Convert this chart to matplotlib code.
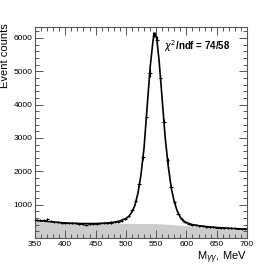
import numpy as np
import matplotlib
matplotlib.use("Agg")
import matplotlib.pyplot as plt
from matplotlib.ticker import MultipleLocator

plt.rcParams['font.family'] = ['Liberation Sans', 'DejaVu Sans']

# Histogram: 60 bins from 350 to 700 MeV
bin_edges_lo = 350.0
bin_edges_hi = 700.0
n_bins = 60
counts = [540, 530, 545, 560, 510, 480, 470, 460, 450, 445,
          440, 445, 430, 420, 395, 415, 425, 430, 440, 455,
          450, 465, 470, 490, 520, 570, 660, 840, 1120, 1620,
          2420, 3640, 4950, 6050, 5950, 4810, 3480, 2330, 1520, 1070,
          730, 560, 480, 430, 400, 380, 365, 350, 340, 330,
          320, 315, 310, 305, 300, 295, 290, 285, 275, 265]

# Fit curve
fit_x = [350, 360, 370, 380, 390, 400, 410, 420, 430, 440, 450, 460, 470, 480,
         490, 500, 505, 510, 515, 520, 525, 530, 535, 540, 545, 548, 551, 555,
         560, 565, 570, 575, 580, 585, 590, 595, 600, 610, 620, 630, 640, 650,
         660, 670, 680, 690, 700]
fit_y = [530, 510, 495, 480, 465, 452, 443, 437, 433, 432, 434, 440, 452, 472,
         510, 585, 650, 780, 980, 1350, 1900, 2700, 3900, 5100, 5950, 6150, 5980, 5300,
         4150, 3000, 2150, 1500, 1080, 800, 620, 520, 460, 400, 370, 348, 330, 315,
         303, 292, 282, 273, 265]

# Background component (grey fill)
bg_x = [350, 380, 400, 450, 500, 550, 580, 600, 620, 650, 680, 700]
bg_y = [500, 455, 445, 440, 440, 430, 400, 370, 340, 300, 260, 230]

chi2_text = r"$\chi^{2}$/ndf = 74/58"

edges = np.linspace(bin_edges_lo, bin_edges_hi, n_bins + 1)
centers = 0.5 * (edges[:-1] + edges[1:])
halfw = 0.5 * (edges[1] - edges[0])
counts_a = np.array(counts, dtype=float)

fig = plt.figure(figsize=(2.75, 2.65), dpi=100)
ax = fig.add_axes([35/275, 1 - 238/265, (247-35)/275, (238-27)/265])

ax.fill_between(bg_x, 0, bg_y, color='#cccccc', lw=0, zorder=1)
ax.errorbar(centers, counts_a, xerr=halfw, yerr=np.sqrt(counts_a) * 1.5,
            fmt='none', ecolor='black', elinewidth=0.8, zorder=3)
ax.plot(fit_x, fit_y, color='black', lw=1.2, zorder=4)

ax.set_xlim(350, 700)
ax.set_ylim(0, 6330)
ax.set_xticks([350, 400, 450, 500, 550, 600, 650, 700])
ax.set_yticks([1000, 2000, 3000, 4000, 5000, 6000])
ax.xaxis.set_minor_locator(MultipleLocator(10))
ax.yaxis.set_minor_locator(MultipleLocator(200))
ax.tick_params(which='both', direction='in', top=True, right=True,
               labelsize=6, pad=2, color='#555555', width=0.7)
ax.tick_params(which='major', length=6)
ax.tick_params(which='minor', length=3)
for s in ax.spines.values():
    s.set_linewidth(0.8)
    s.set_color('#555555')

ax.text(0.61, 0.91, chi2_text, transform=ax.transAxes, fontsize=7,
        fontweight='bold', ha='left', va='center')
fig.text(5/275, 1 - 23/265, "Event counts", rotation=90, fontsize=8,
         ha='center', va='top')
fig.text(247/275, 1 - 258/265, r"M$_{\gamma\gamma}$, MeV", fontsize=8,
         ha='right', va='center')

fig.savefig("out.png", dpi=100)
